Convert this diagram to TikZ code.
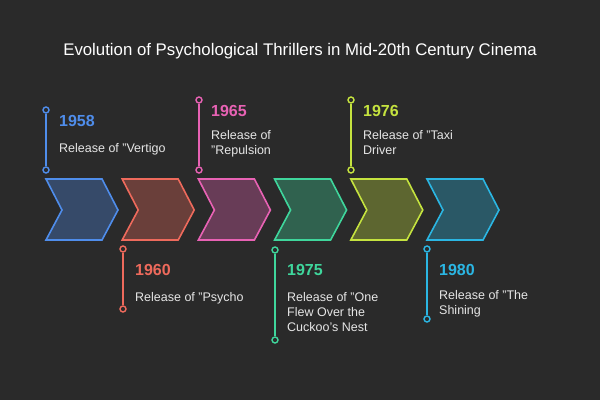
\documentclass[tikz,border=0pt]{standalone}
\usepackage{fontspec}
\setmainfont{Liberation Sans}
\definecolor{bg}{HTML}{2A2A2A}
\definecolor{cA}{HTML}{4F8DEB}
\definecolor{cB}{HTML}{EE6A5C}
\definecolor{cC}{HTML}{E862B4}
\definecolor{cD}{HTML}{3FD69C}
\definecolor{cE}{HTML}{C5E33F}
\definecolor{cF}{HTML}{2BB6E3}
\definecolor{txt}{HTML}{E6E6E6}
\begin{document}
\begin{tikzpicture}[x=1pt,y=-1pt,
  chev/.style={line width=1.6pt, line join=miter, fill opacity=0.33, draw opacity=1},
  dot/.style={circle, draw=#1, fill=bg, line width=1.4pt, minimum size=6pt, inner sep=0pt},
  stalk/.style={draw=#1, line width=1.6pt},
  year/.style={anchor=west, inner sep=0pt, text=#1, font=\fontsize{16}{18}\selectfont\bfseries},
  body/.style={anchor=north west, inner sep=0pt, text=txt, align=left, font=\fontsize{12.5}{15}\selectfont},
  ttl/.style={inner sep=0pt, text=white, font=\fontsize{16.8}{19}\selectfont}]
\fill[bg] (0,0) rectangle (600,400);
\useasboundingbox (0,0) rectangle (600,400);
\node[ttl] (title) at (300,51) {Evolution of Psychological Thrillers in Mid-20th Century Cinema};
% chevrons
\foreach \i/\c in {0/cA,1/cB,2/cC,3/cD,4/cE,5/cF}{
  \pgfmathsetmacro{\xx}{46+76.2*\i}
  \draw[chev, draw=\c, fill=\c] (\xx,179) -- ++(56,0) -- ++(16,31) -- ++(-16,30) -- ++(-56,0) -- ++(16,-30) -- cycle;
}
% top stalks
\node[dot=cA] (a1) at (46,110) {};
\node[dot=cA] (a2) at (46,170) {};
\draw[stalk=cA] (a1) -- (a2);
\node[dot=cC] (c1) at (199,100) {};
\node[dot=cC] (c2) at (199,170) {};
\draw[stalk=cC] (c1) -- (c2);
\node[dot=cE] (e1) at (351,100) {};
\node[dot=cE] (e2) at (351,170) {};
\draw[stalk=cE] (e1) -- (e2);
% bottom stalks
\node[dot=cB] (b1) at (123,249) {};
\node[dot=cB] (b2) at (123,309) {};
\draw[stalk=cB] (b1) -- (b2);
\node[dot=cD] (d1) at (275,250) {};
\node[dot=cD] (d2) at (275,340) {};
\draw[stalk=cD] (d1) -- (d2);
\node[dot=cF] (f1) at (427,249) {};
\node[dot=cF] (f2) at (427,319) {};
\draw[stalk=cF] (f1) -- (f2);
% labels
\node[year=cA] (y1) at (59,121) {1958};
\node[body] (t1) at (59,143) {Release of "Vertigo};
\node[year=cC] (y3) at (211,111) {1965};
\node[body] (t3) at (211,130) {Release of\\"Repulsion};
\node[year=cE] (y5) at (363,111) {1976};
\node[body] (t5) at (363,130) {Release of "Taxi\\Driver};
\node[year=cB] (y2) at (135,270) {1960};
\node[body] (t2) at (135,292) {Release of "Psycho};
\node[year=cD] (y4) at (287,270) {1975};
\node[body] (t4) at (287,292) {Release of "One\\Flew Over the\\Cuckoo's Nest};
\node[year=cF] (y6) at (439,270) {1980};
\node[body] (t6) at (439,290) {Release of "The\\Shining};
\end{tikzpicture}
\end{document}
